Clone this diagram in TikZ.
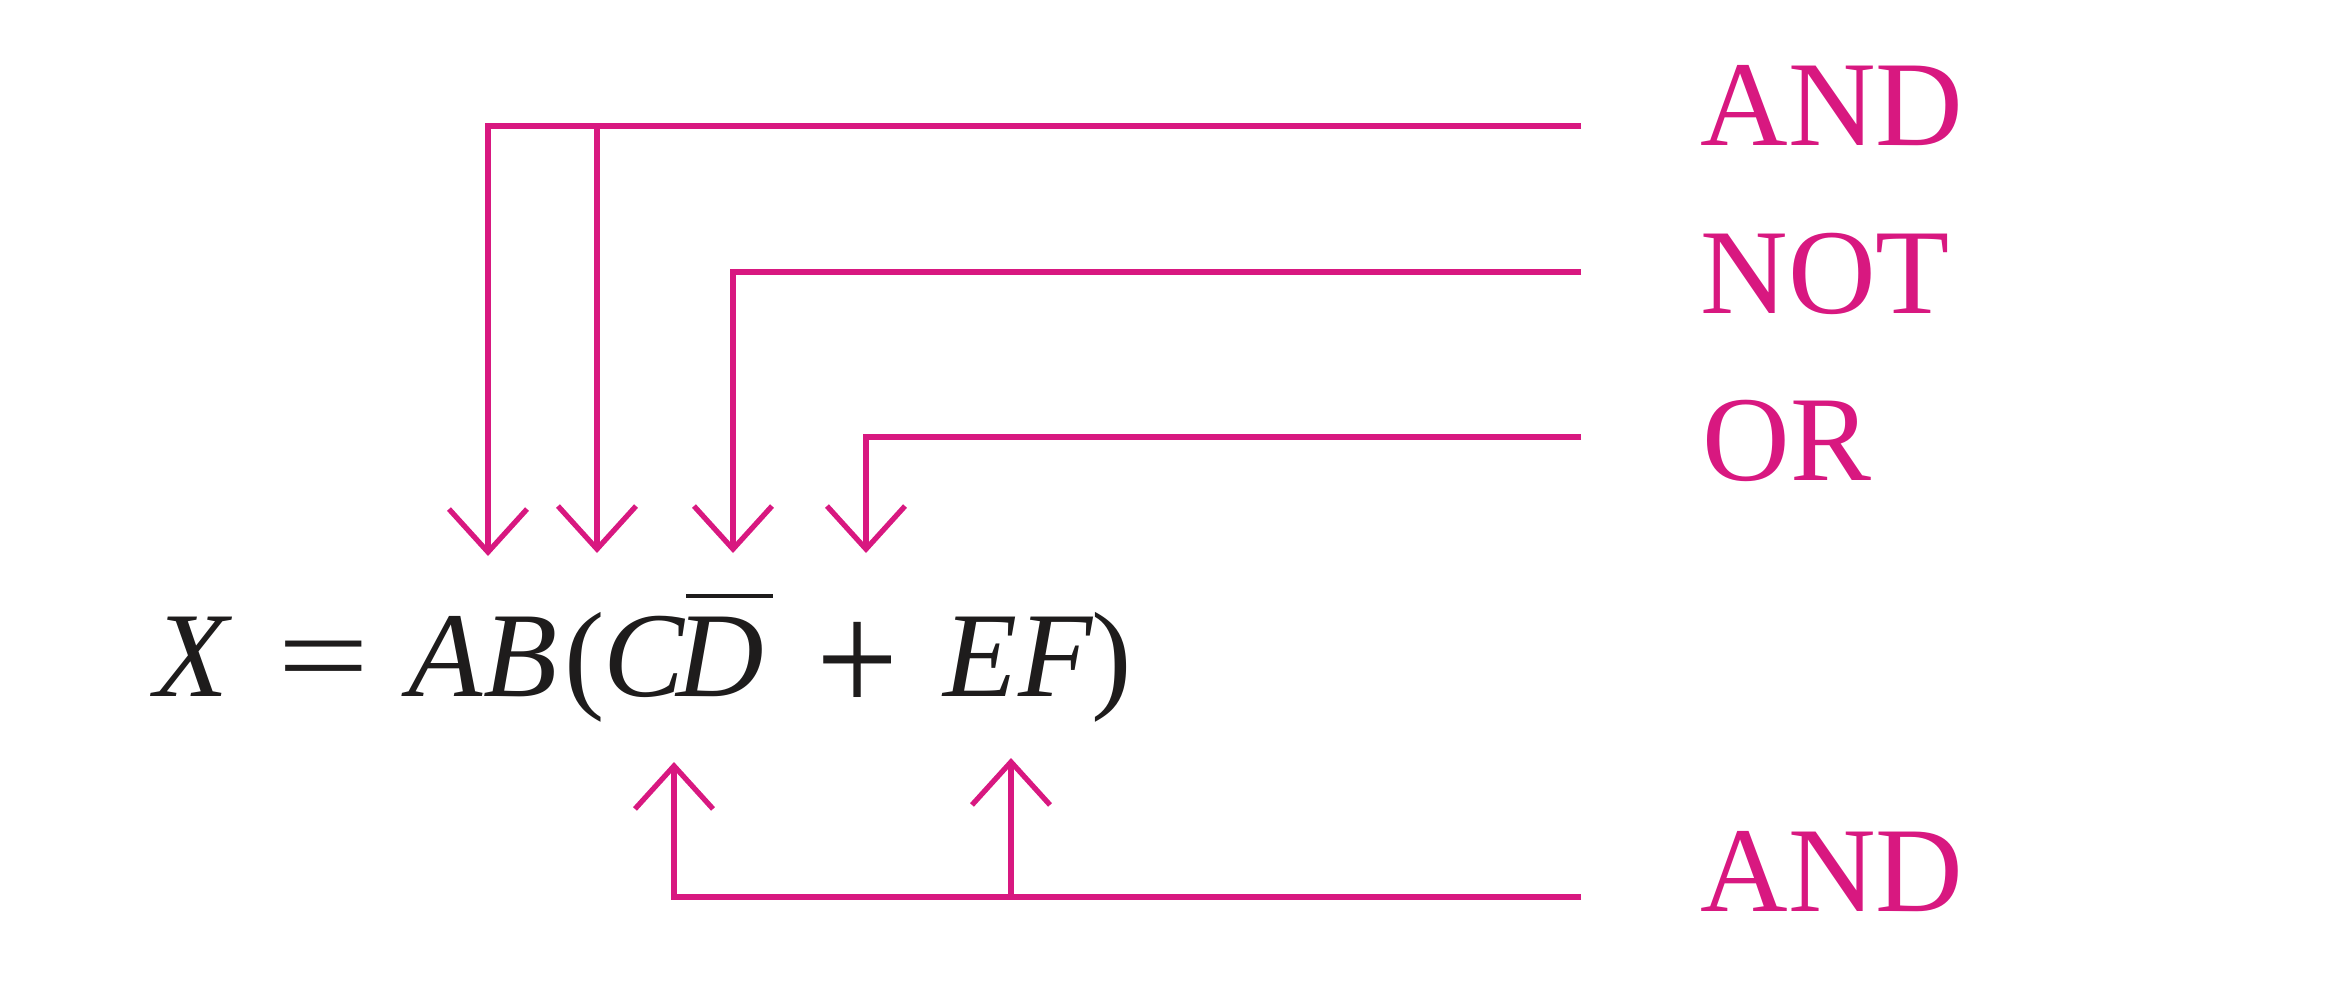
\documentclass[tikz,border=0pt]{standalone}
\usepackage{fontspec}
\setmainfont{Liberation Serif}
\usepackage{tikz}
\usetikzlibrary{arrows.meta}
\definecolor{gate}{RGB}{216,24,128}
\definecolor{ink}{RGB}{30,28,28}

\begin{document}
\begin{tikzpicture}[x=0.01cm, y=-0.01cm,
    wire/.style={gate, line width=1.5pt},
    tipped/.style={-{Straight Barb[length=0.43cm, width=0.78cm]}},
    sym/.style={inner sep=0pt, anchor=base, text=ink, font=\fontsize{34.5}{40}\selectfont},
    lbl/.style={inner sep=0pt, anchor=base west, text=gate, font=\fontsize{34.5}{40}\selectfont}]
  \useasboundingbox (0,0) rectangle (2332,1000);
  % the expression
  \node[sym] (symX)  at (192,696)  {\itshape X};
  \node[sym] (symEq) at (324,696)  {\scalebox{1.35}[1]{=}};
  \node[sym] (symA)  at (446,696)  {\itshape A};
  \node[sym] (symB)  at (521,696)  {\itshape B};
  \node[sym] (symLp) at (585,696)  {(};
  \node[sym] (symC)  at (644,696)  {\itshape C};
  \node[sym] (symD)  at (720,696)  {\itshape D};
  \node[sym] (symPl) at (858,713)  {\scalebox{1.2}[1.33]{+}};
  \node[sym] (symE)  at (981,696)  {\itshape E};
  \node[sym] (symF)  at (1056,696) {\itshape F};
  \node[sym] (symRp) at (1112,696) {)};
  \draw[ink, line width=1.3pt] (686,596) -- (773,596);
  % gate names
  \node[lbl] (andTop) at (1700,145) {AND};
  \node[lbl] (notLbl) at (1700,313) {NOT};
  \node[lbl] (orLbl)  at (1702,480) {OR};
  \node[lbl] (andBot) at (1700,911) {AND};
  % wire ends
  \coordinate (andIn) at (1581,126);
  \coordinate (notIn) at (1581,272);
  \coordinate (orIn)  at (1581,437);
  \coordinate (botIn) at (1581,897);
  \coordinate (tipAB) at (488,556);
  \coordinate (tipBC) at (597,553);
  \coordinate (tipD)  at (733,553);
  \coordinate (tipPl) at (866,553);
  \coordinate (tipCD) at (674,762);
  \coordinate (tipEF) at (1011,758);
  % wires
  \draw[wire, tipped] (andIn) -| (tipAB);
  \draw[wire, tipped] (tipBC |- andIn) -- (tipBC);
  \draw[wire, tipped] (notIn) -| (tipD);
  \draw[wire, tipped] (orIn) -| (tipPl);
  \draw[wire, tipped] (botIn) -| (tipCD);
  \draw[wire, tipped] (tipEF |- botIn) -- (tipEF);
\end{tikzpicture}
\end{document}
